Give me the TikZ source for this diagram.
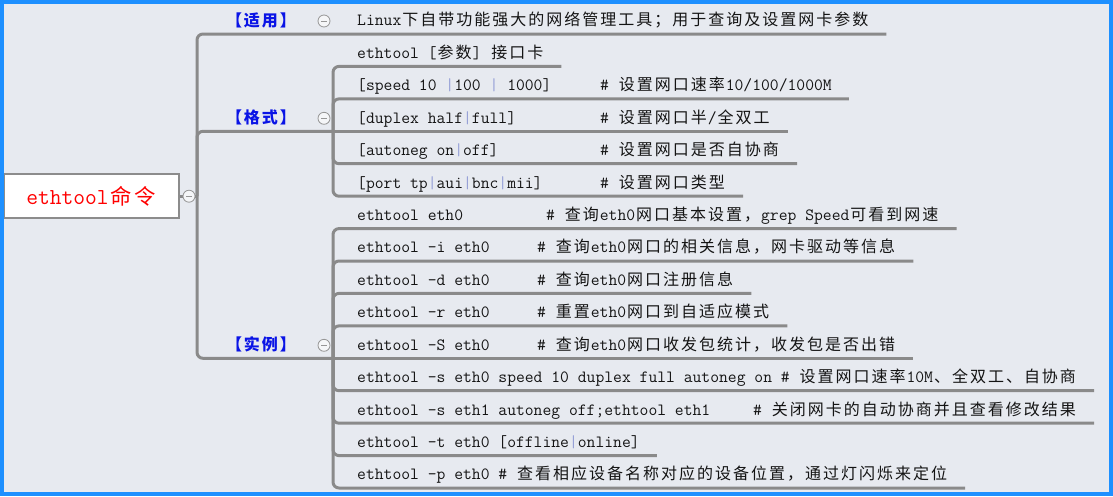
\documentclass[tikz,border=0pt]{standalone}
\usepackage{fontspec}
\newfontfamily\cjkfont[Scale=0.9333]{Noto Sans CJK SC}
\newcommand\latfont{\ttfamily}
\XeTeXinterchartokenstate=1
\newXeTeXintercharclass\CJKcls
\newcount\mycnt
\mycnt="4E00
\loop
\XeTeXcharclass\mycnt=\CJKcls
\ifnum\mycnt<"9FFF \advance\mycnt by 1 \repeat
\XeTeXcharclass"3001=\CJKcls
\XeTeXcharclass"3010=\CJKcls
\XeTeXcharclass"3011=\CJKcls
\XeTeXcharclass"FF0C=\CJKcls
\XeTeXcharclass"FF1B=\CJKcls
\XeTeXinterchartoks 0 \CJKcls={\kern0.0583em\relax\cjkfont\relax}
\XeTeXinterchartoks 4095 \CJKcls={\kern0.0583em\relax\cjkfont\relax}
\XeTeXinterchartoks \CJKcls \CJKcls={\kern0.125em\relax}
\XeTeXinterchartoks \CJKcls 0={\latfont\kern0.0583em\relax}
\XeTeXinterchartoks \CJKcls 4095={\latfont\kern0.0583em\relax}
\definecolor{bgcol}{RGB}{231,234,240}
\definecolor{bordercol}{RGB}{30,144,255}
\definecolor{linecol}{RGB}{138,138,138}
\definecolor{textcol}{RGB}{20,20,20}
\definecolor{lblcol}{RGB}{10,20,230}
\definecolor{barcol}{RGB}{150,160,215}
\definecolor{btncol}{RGB}{150,150,150}
\definecolor{btnfill}{RGB}{245,246,248}
\definecolor{rootborder}{RGB}{140,140,140}
\newcommand\vb{\textcolor{barcol}{|}}
\newcommand\cm[2]{\makebox[#1pt][l]{#2}}
\tikzset{
  ln/.style={draw=linecol, line width=3pt, rounded corners=6pt},
  txt/.style={anchor=south west, inner xsep=0pt, inner ysep=4pt, text height=11pt, text depth=4pt, text=textcol, font=\ttfamily\fontsize{17.14pt}{20pt}\selectfont},
  lbl/.style={anchor=base, inner sep=0pt, text=lblcol, font=\ttfamily\fontsize{17.14pt}{20pt}\selectfont\bfseries},
  btn/.style={circle, draw=btncol, line width=0.8pt, fill=btnfill, minimum size=12pt, inner sep=0pt,
    path picture={\draw[btncol, line width=1pt] ([xshift=-3pt]path picture bounding box.center) -- ([xshift=3pt]path picture bounding box.center);}},
  rootbox/.style={draw=rootborder, line width=2.5pt, fill=white, minimum width=175pt, minimum height=44pt, inner sep=0pt, text=red, font=\ttfamily\fontsize{22.86pt}{26pt}\selectfont}
}
\begin{document}
\begin{tikzpicture}[x=1pt,y=-1pt]
\useasboundingbox (0,0) rectangle (1113,496);
\fill[bgcol] (0,0) rectangle (1113,496);
% junctions
\coordinate (rj) at (197,196.2);
\coordinate (fj) at (333,131.3);
\coordinate (sj) at (333,358.3);
% root
\node[rootbox] (root) at (91.5,196.2) {ethtool命令};
% branch labels
\node[lbl] (la) at (261,26) {【适用】};
\node[lbl] (lf) at (261,123.3) {【格式】};
\node[lbl] (ls) at (261,350.3) {【实例】};
% texts
\node[txt] (c0) at (357,34) {Linux下自带功能强大的网络管理工具；用于查询及设置网卡参数};
\node[txt] (f1) at (357,66.4) {ethtool [参数] 接口卡};
\node[txt] (f2) at (357,98.9) {\cm{243}{[speed 10 \vb{}100 \vb{} 1000]}\# 设置网口速率10/100/1000M};
\node[txt] (f3) at (357,131.3) {\cm{243}{[duplex half\vb{}full]}\# 设置网口半/全双工};
\node[txt] (f4) at (357,163.7) {\cm{243}{[autoneg on\vb{}off]}\# 设置网口是否自协商};
\node[txt] (f5) at (357,196.2) {\cm{243}{[port tp\vb{}aui\vb{}bnc\vb{}mii]}\# 设置网口类型};
\node[txt] (s1) at (357,228.6) {\cm{189}{ethtool eth0}\# 查询eth0网口基本设置，grep Speed可看到网速};
\node[txt] (s2) at (357,261.0) {\cm{180}{ethtool -i eth0}\# 查询eth0网口的相关信息，网卡驱动等信息};
\node[txt] (s3) at (357,293.4) {\cm{180}{ethtool -d eth0}\# 查询eth0网口注册信息};
\node[txt] (s4) at (357,325.9) {\cm{180}{ethtool -r eth0}\# 重置eth0网口到自适应模式};
\node[txt] (s5) at (357,358.3) {\cm{180}{ethtool -S eth0}\# 查询eth0网口收发包统计，收发包是否出错};
\node[txt] (s6) at (357,390.7) {ethtool -s eth0 speed 10 duplex full autoneg on \# 设置网口速率10M、全双工、自协商};
\node[txt] (s7) at (357,423.2) {\cm{396}{ethtool -s eth1 autoneg off;ethtool eth1}\# 关闭网卡的自动协商并且查看修改结果};
\node[txt] (s8) at (357,455.6) {ethtool -t eth0 [offline\vb{}online]};
\node[txt] (s9) at (357,488.0) {ethtool -p eth0 \# 查看相应设备名称对应的设备位置，通过灯闪烁来定位};
% connectors
\draw[ln] (root.east) -- (rj);
\draw[ln] (rj) |- ([xshift=17pt]c0.south east);
\draw[ln] (rj) |- (fj);
\draw[ln] (rj) |- (sj);
\draw[ln] (fj) |- ([xshift=17pt]f1.south east);
\draw[ln] (fj) |- ([xshift=17pt]f2.south east);
\draw[ln] (fj) -- ([xshift=17pt]f3.south east);
\draw[ln] (fj) |- ([xshift=17pt]f4.south east);
\draw[ln] (fj) |- ([xshift=17pt]f5.south east);
\draw[ln] (sj) |- ([xshift=17pt]s1.south east);
\draw[ln] (sj) |- ([xshift=17pt]s2.south east);
\draw[ln] (sj) |- ([xshift=17pt]s3.south east);
\draw[ln] (sj) |- ([xshift=17pt]s4.south east);
\draw[ln] (sj) -- ([xshift=17pt]s5.south east);
\draw[ln] (sj) |- ([xshift=17pt]s6.south east);
\draw[ln] (sj) |- ([xshift=17pt]s7.south east);
\draw[ln] (sj) |- ([xshift=17pt]s8.south east);
\draw[ln] (sj) |- ([xshift=17pt]s9.south east);
% collapse buttons
\node[btn] (b0) at (189,196.2) {};
\node[btn] (ba) at (324,21) {};
\node[btn] (bf) at (324,118.3) {};
\node[btn] (bs) at (324,345.3) {};
% frame
\draw[bordercol, line width=4pt] (2,2) rectangle (1111,494);
\end{tikzpicture}
\end{document}
